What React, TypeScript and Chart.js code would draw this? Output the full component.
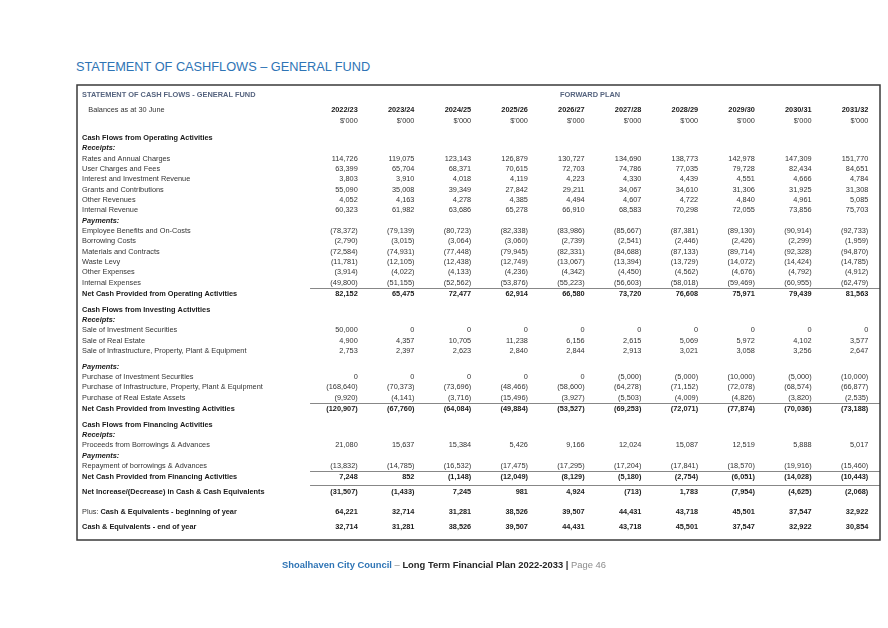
import React, { useEffect, useRef } from "react";
import { Chart, registerables } from "chart.js";

Chart.register(...registerables);

// ---------------- DATA ----------------
const years = ["2022/23", "2023/24", "2024/25", "2025/26", "2026/27", "2027/28", "2028/29", "2029/30", "2030/31", "2031/32"];
const unitLabel = "$'000";
const tableTitle = "STATEMENT OF CASH FLOWS - GENERAL FUND";
const forwardPlanLabel = "FORWARD PLAN";
const balancesLabel = "Balances as at 30 June";
const pageTitle = "STATEMENT OF CASHFLOWS – GENERAL FUND";

const ratesAndAnnualCharges = [114726, 119075, 123143, 126879, 130727, 134690, 138773, 142978, 147309, 151770];
const userChargesAndFees = [63399, 65704, 68371, 70615, 72703, 74786, 77035, 79728, 82434, 84651];
const interestAndInvestmentRevenue = [3803, 3910, 4018, 4119, 4223, 4330, 4439, 4551, 4666, 4784];
const grantsAndContributions = [55090, 35008, 39349, 27842, 29211, 34067, 34610, 31306, 31925, 31308];
const otherRevenues = [4052, 4163, 4278, 4385, 4494, 4607, 4722, 4840, 4961, 5085];
const internalRevenue = [60323, 61982, 63686, 65278, 66910, 68583, 70298, 72055, 73856, 75703];
const employeeBenefits = [-78372, -79139, -80723, -82338, -83986, -85667, -87381, -89130, -90914, -92733];
const borrowingCosts = [-2790, -3015, -3064, -3060, -2739, -2541, -2446, -2426, -2299, -1959];
const materialsAndContracts = [-72584, -74931, -77448, -79945, -82331, -84688, -87133, -89714, -92328, -94870];
const wasteLevy = [-11781, -12105, -12438, -12749, -13067, -13394, -13729, -14072, -14424, -14785];
const otherExpenses = [-3914, -4022, -4133, -4236, -4342, -4450, -4562, -4676, -4792, -4912];
const internalExpenses = [-49800, -51155, -52562, -53876, -55223, -56603, -58018, -59469, -60955, -62479];
const netOperating = [82152, 65475, 72477, 62914, 66580, 73720, 76608, 75971, 79439, 81563];

const saleOfInvestmentSecurities = [50000, 0, 0, 0, 0, 0, 0, 0, 0, 0];
const saleOfRealEstate = [4900, 4357, 10705, 11238, 6156, 2615, 5069, 5972, 4102, 3577];
const saleOfInfrastructure = [2753, 2397, 2623, 2840, 2844, 2913, 3021, 3058, 3256, 2647];
const purchaseOfInvestmentSecurities = [0, 0, 0, 0, 0, -5000, -5000, -10000, -5000, -10000];
const purchaseOfInfrastructure = [-168640, -70373, -73696, -48466, -58600, -64278, -71152, -72078, -68574, -66877];
const purchaseOfRealEstate = [-9920, -4141, -3716, -15496, -3927, -5503, -4009, -4826, -3820, -2535];
const netInvesting = [-120907, -67760, -64084, -49884, -53527, -69253, -72071, -77874, -70036, -73188];

const proceedsFromBorrowings = [21080, 15637, 15384, 5426, 9166, 12024, 15087, 12519, 5888, 5017];
const repaymentOfBorrowings = [-13832, -14785, -16532, -17475, -17295, -17204, -17841, -18570, -19916, -15460];
const netFinancing = [7248, 852, -1148, -12049, -8129, -5180, -2754, -6051, -14028, -10443];

const netIncrease = [-31507, -1433, 7245, 981, 4924, -713, 1783, -7954, -4625, -2068];
const cashBeginning = [64221, 32714, 31281, 38526, 39507, 44431, 43718, 45501, 37547, 32922];
const cashEnd = [32714, 31281, 38526, 39507, 44431, 43718, 45501, 37547, 32922, 30854];

type Kind = "section" | "sub" | "item" | "total" | "grand" | "plus" | "end";
type Row = { kind: Kind; label: string; prefix?: string; values?: number[]; extraGap?: boolean };

const rows: Row[] = [
  { kind: "section", label: "Cash Flows from Operating Activities" },
  { kind: "sub", label: "Receipts:" },
  { kind: "item", label: "Rates and Annual Charges", values: ratesAndAnnualCharges },
  { kind: "item", label: "User Charges and Fees", values: userChargesAndFees },
  { kind: "item", label: "Interest and Investment Revenue", values: interestAndInvestmentRevenue },
  { kind: "item", label: "Grants and Contributions", values: grantsAndContributions },
  { kind: "item", label: "Other Revenues", values: otherRevenues },
  { kind: "item", label: "Internal Revenue", values: internalRevenue },
  { kind: "sub", label: "Payments:" },
  { kind: "item", label: "Employee Benefits and On-Costs", values: employeeBenefits },
  { kind: "item", label: "Borrowing Costs", values: borrowingCosts },
  { kind: "item", label: "Materials and Contracts", values: materialsAndContracts },
  { kind: "item", label: "Waste Levy", values: wasteLevy },
  { kind: "item", label: "Other Expenses", values: otherExpenses },
  { kind: "item", label: "Internal Expenses", values: internalExpenses },
  { kind: "total", label: "Net Cash Provided from Operating Activities", values: netOperating },
  { kind: "section", label: "Cash Flows from Investing Activities" },
  { kind: "sub", label: "Receipts:" },
  { kind: "item", label: "Sale of Investment Securities", values: saleOfInvestmentSecurities },
  { kind: "item", label: "Sale of Real Estate", values: saleOfRealEstate },
  { kind: "item", label: "Sale of Infrastructure, Property, Plant & Equipment", values: saleOfInfrastructure },
  { kind: "sub", label: "Payments:", extraGap: true },
  { kind: "item", label: "Purchase of Investment Securities", values: purchaseOfInvestmentSecurities },
  { kind: "item", label: "Purchase of Infrastructure, Property, Plant & Equipment", values: purchaseOfInfrastructure },
  { kind: "item", label: "Purchase of Real Estate Assets", values: purchaseOfRealEstate },
  { kind: "total", label: "Net Cash Provided from Investing Activities", values: netInvesting },
  { kind: "section", label: "Cash Flows from Financing Activities" },
  { kind: "sub", label: "Receipts:" },
  { kind: "item", label: "Proceeds from Borrowings & Advances", values: proceedsFromBorrowings },
  { kind: "sub", label: "Payments:" },
  { kind: "item", label: "Repayment of borrowings & Advances", values: repaymentOfBorrowings },
  { kind: "total", label: "Net Cash Provided from Financing Activities", values: netFinancing },
  { kind: "grand", label: "Net Increase/(Decrease) in Cash & Cash Equivalents", values: netIncrease },
  { kind: "plus", prefix: "Plus: ", label: "Cash & Equivalents - beginning of year", values: cashBeginning },
  { kind: "end", label: "Cash & Equivalents - end of year", values: cashEnd },
];

// ---------------- LAYOUT (row-line units) ----------------
const HEADER_LINE = 0;
const YEARS_LINE = 1.45;
const UNITS_LINE = 2.55;
function leadFor(row: Row): number {
  if (row.kind === "section") return 1.55;
  if (row.extraGap) return 1.5;
  if (row.kind === "total") return 1.05;
  if (row.kind === "grand") return 1.5;
  if (row.kind === "plus") return 1.85;
  if (row.kind === "end") return 1.45;
  return 1;
}
const rowLine: number[] = [];
{
  let y = UNITS_LINE + 0.05;
  rows.forEach((r) => {
    y += leadFor(r);
    rowLine.push(y);
  });
}

const fmt = (v: number) => {
  const s = Math.abs(v).toLocaleString("en-US");
  return v < 0 ? `(${s})` : s;
};

const points: { x: number; y: number }[] = [];
const cellText: string[] = [];
const cellBold: boolean[] = [];
rows.forEach((r, ri) => {
  if (!r.values) return;
  r.values.forEach((v, ci) => {
    points.push({ x: ci, y: rowLine[ri] });
    cellText.push(fmt(v));
    cellBold.push(r.kind !== "item");
  });
});

const FONT = "'Liberation Sans', Arial, Helvetica, sans-serif";
const SIZE = 7.35;
const TXT = "#333333";
const TXT_BOLD = "#1a1a1a";
const HEAD = "#56647f";

const X_MIN = -4.948;
const X_MAX = 9.206;
const LABEL_X = -4.858;
const INDENT_X = -4.75;
const RULE_X = -0.84;
const FORWARD_X = 4.095;

const tablePlugin = {
  id: "cashflowTable",
  afterDatasetsDraw(chart: any) {
    const ctx: CanvasRenderingContext2D = chart.ctx;
    const xs = chart.scales.x;
    const ys = chart.scales.y;
    const a = chart.chartArea;
    ctx.save();
    ctx.textBaseline = "middle";

    // rules
    ctx.strokeStyle = "#878787";
    ctx.lineWidth = 1;
    rows.forEach((r, ri) => {
      let off = 0;
      if (r.kind === "total") off = 0.55;
      else if (r.kind === "grand") off = 0.68;
      else return;
      const y = Math.round(ys.getPixelForValue(rowLine[ri] - off)) + 0.5;
      ctx.beginPath();
      ctx.moveTo(xs.getPixelForValue(RULE_X), y);
      ctx.lineTo(a.right, y);
      ctx.stroke();
    });

    // border
    ctx.strokeStyle = "#3a3a3a";
    ctx.lineWidth = 1.5;
    ctx.strokeRect(a.left, a.top, a.right - a.left, a.bottom - a.top);

    // header
    ctx.fillStyle = HEAD;
    ctx.font = `bold 7.4px ${FONT}`;
    ctx.textAlign = "left";
    ctx.fillText(tableTitle, xs.getPixelForValue(LABEL_X), ys.getPixelForValue(HEADER_LINE));
    ctx.textAlign = "center";
    ctx.fillText(forwardPlanLabel, xs.getPixelForValue(FORWARD_X), ys.getPixelForValue(HEADER_LINE));

    // years & units
    ctx.fillStyle = TXT;
    ctx.font = `${SIZE}px ${FONT}`;
    ctx.textAlign = "left";
    ctx.fillText(balancesLabel, xs.getPixelForValue(INDENT_X), ys.getPixelForValue(YEARS_LINE));
    ctx.textAlign = "right";
    years.forEach((yr, ci) => {
      ctx.fillStyle = TXT_BOLD;
      ctx.font = `bold ${SIZE}px ${FONT}`;
      ctx.fillText(yr, xs.getPixelForValue(ci), ys.getPixelForValue(YEARS_LINE));
      ctx.fillStyle = TXT;
      ctx.font = `${SIZE}px ${FONT}`;
      ctx.fillText(unitLabel, xs.getPixelForValue(ci), ys.getPixelForValue(UNITS_LINE));
    });

    // row labels
    ctx.textAlign = "left";
    rows.forEach((r, ri) => {
      const y = ys.getPixelForValue(rowLine[ri]);
      let x = xs.getPixelForValue(LABEL_X);
      if (r.prefix) {
        ctx.font = `${SIZE}px ${FONT}`;
        ctx.fillStyle = TXT;
        ctx.fillText(r.prefix, x, y);
        x += ctx.measureText(r.prefix).width;
      }
      if (r.kind === "item") {
        ctx.font = `${SIZE}px ${FONT}`;
        ctx.fillStyle = TXT;
      } else if (r.kind === "sub") {
        ctx.font = `italic bold ${SIZE}px ${FONT}`;
        ctx.fillStyle = TXT_BOLD;
      } else {
        ctx.font = `bold ${SIZE}px ${FONT}`;
        ctx.fillStyle = TXT_BOLD;
      }
      ctx.fillText(r.label, x, y);
    });

    // cells from dataset elements
    const meta = chart.getDatasetMeta(0);
    ctx.textAlign = "right";
    meta.data.forEach((el: any, i: number) => {
      ctx.font = cellBold[i] ? `bold ${SIZE}px ${FONT}` : `${SIZE}px ${FONT}`;
      ctx.fillStyle = cellBold[i] ? TXT_BOLD : TXT;
      ctx.fillText(cellText[i], el.x, el.y);
    });
    ctx.restore();
  },
};

export default function App() {
  const ref = useRef<HTMLCanvasElement | null>(null);
  useEffect(() => {
    if (!ref.current) return;
    const chart = new Chart(ref.current, {
      type: "scatter",
      data: {
        datasets: [
          {
            data: points,
            pointRadius: 0,
            pointHoverRadius: 0,
            showLine: false,
          },
        ],
      },
      options: {
        responsive: false,
        animation: false,
        events: [],
        layout: { padding: { left: 77, right: 8, top: 85, bottom: 88 } },
        scales: {
          x: { type: "linear", min: X_MIN, max: X_MAX, display: false },
          y: { type: "linear", min: -0.96, max: 43.0, reverse: true, display: false },
        },
        plugins: { legend: { display: false }, tooltip: { enabled: false }, title: { display: false } },
      },
      plugins: [tablePlugin],
    } as any);
    return () => chart.destroy();
  }, []);

  return (
    <div style={{ position: "absolute", left: 0, top: 0, width: 888, height: 628, background: "#fff", overflow: "hidden" }}>
      <div
        style={{
          position: "absolute",
          left: 76,
          top: 59,
          font: `12.75px ${FONT}`,
          lineHeight: "16px",
          color: "#2e74b5",
          whiteSpace: "nowrap",
        }}
      >
        {pageTitle}
      </div>
      <canvas ref={ref} width={888} height={628} style={{ position: "absolute", left: 0, top: 0 }} />
      <div
        style={{
          position: "absolute",
          left: 0,
          top: 558,
          width: 888,
          textAlign: "center",
          font: `bold 9.4px ${FONT}`,
          lineHeight: "14px",
          whiteSpace: "nowrap",
        }}
      >
        <span style={{ color: "#2e74b5" }}>Shoalhaven City Council</span>
        <span style={{ color: "#8c8c8c", fontWeight: "normal" }}> – </span>
        <span style={{ color: "#262626" }}>Long Term Financial Plan 2022-2033 |</span>
        <span style={{ color: "#8c8c8c", fontWeight: "normal" }}> Page 46</span>
      </div>
    </div>
  );
}
